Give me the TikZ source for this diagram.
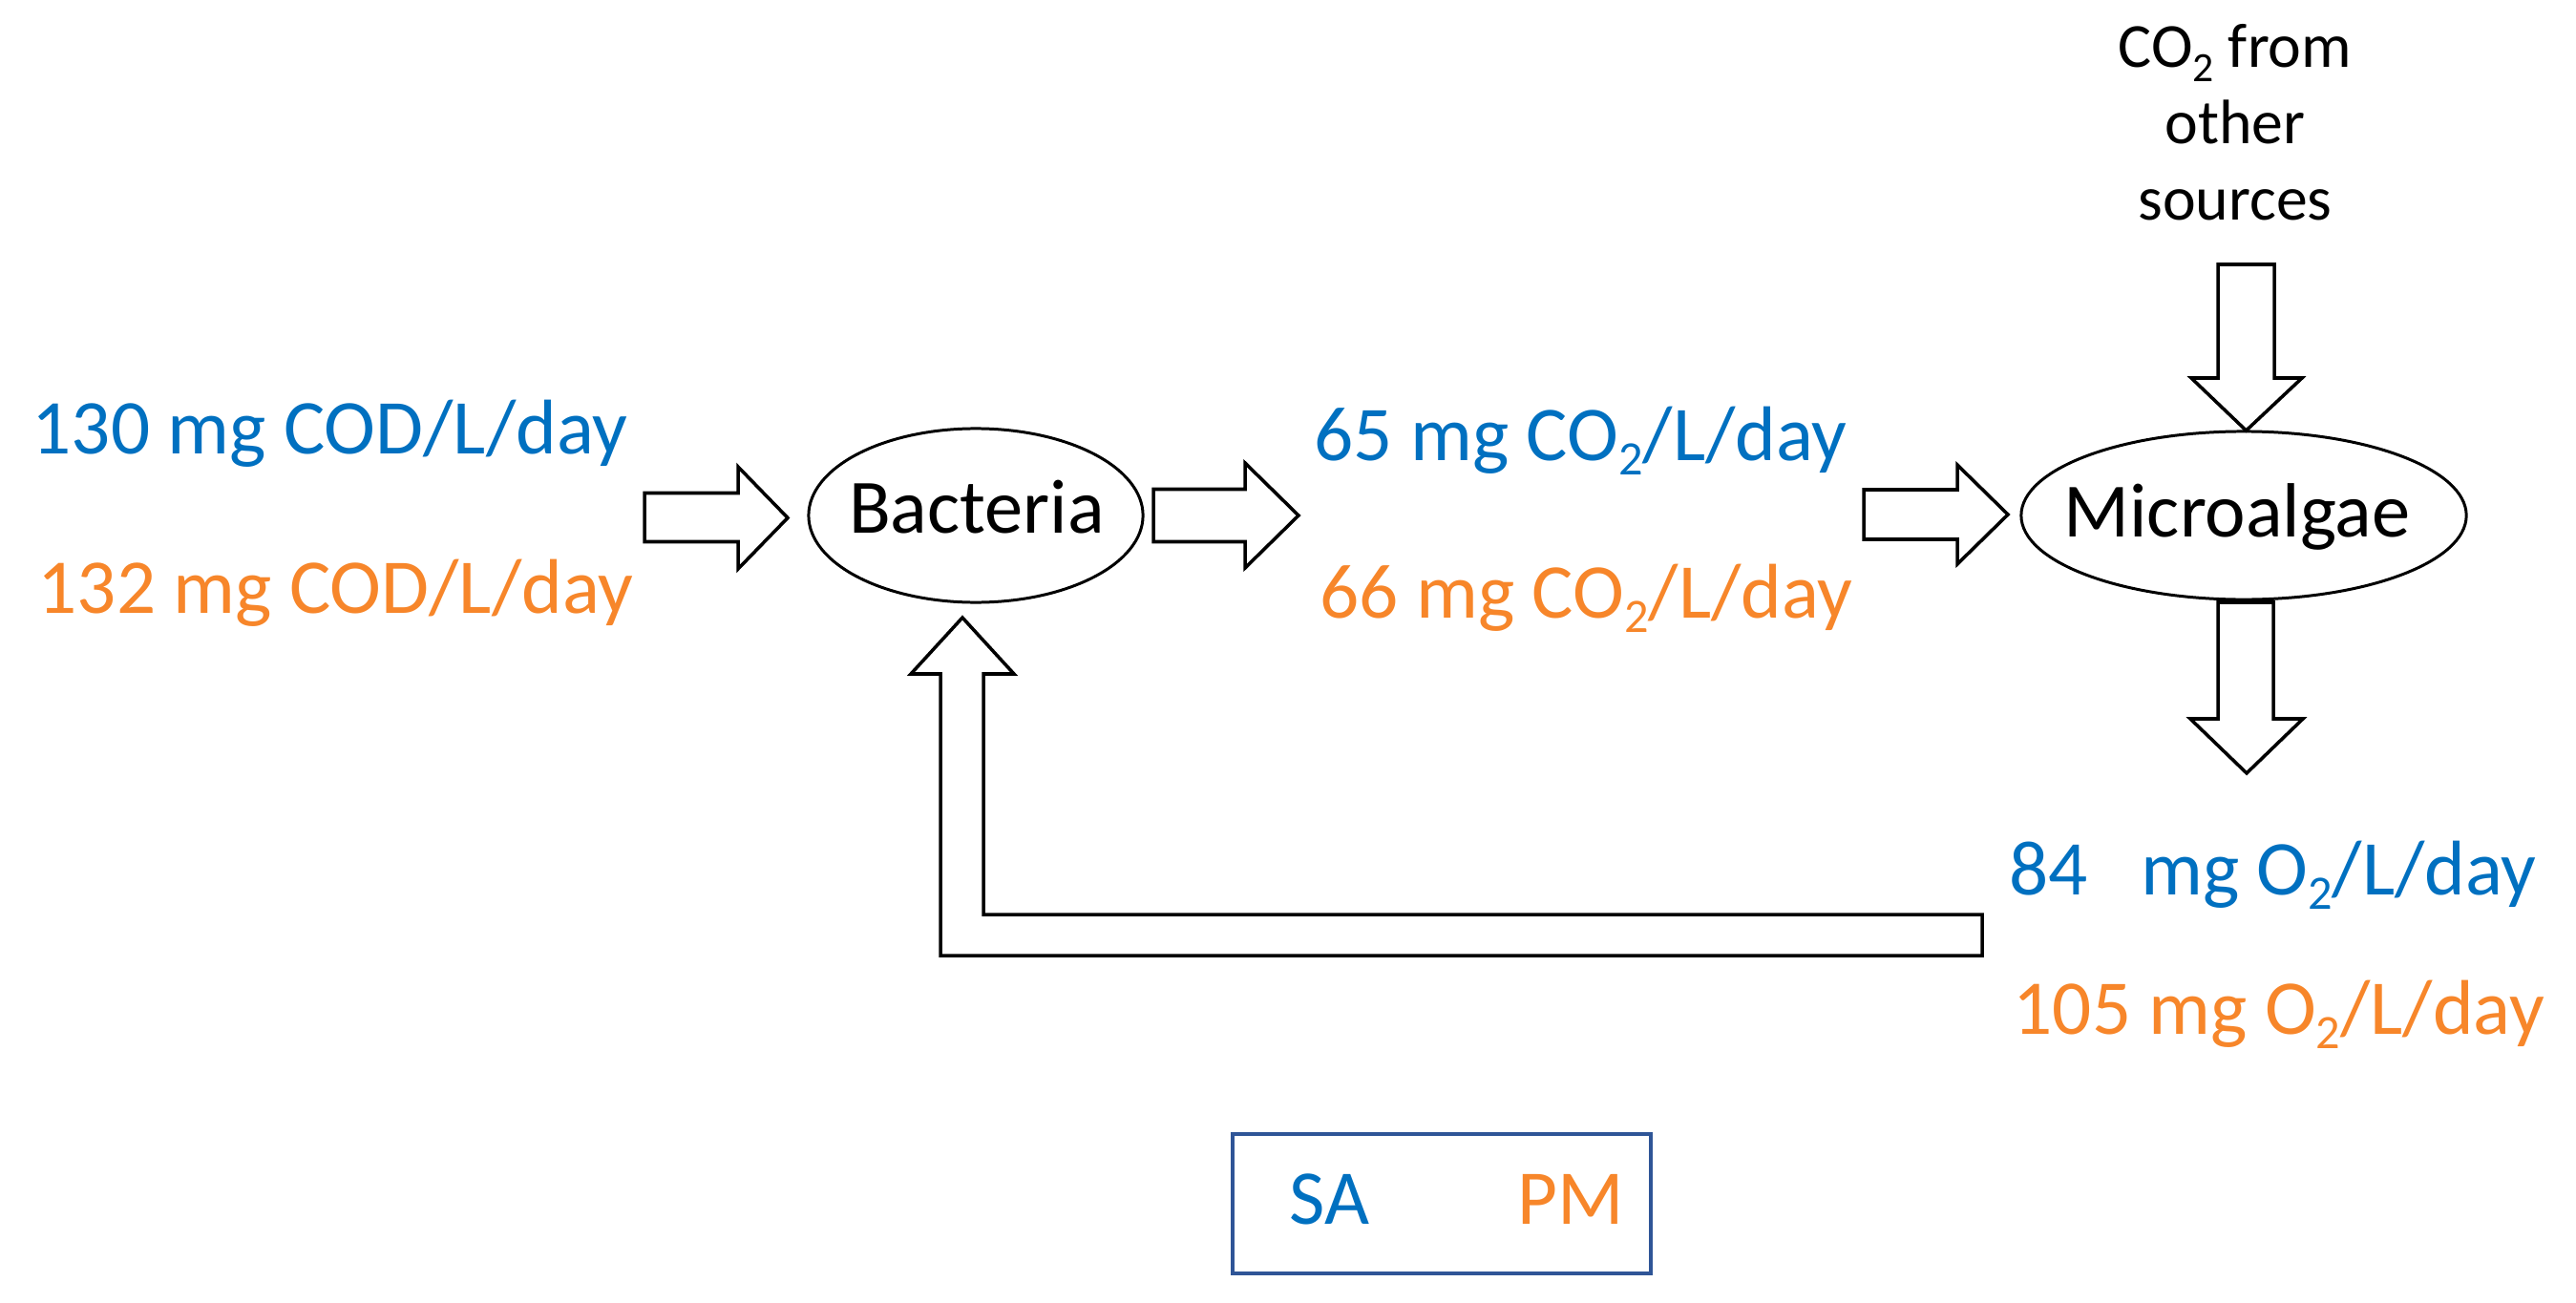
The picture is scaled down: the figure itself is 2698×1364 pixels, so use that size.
\documentclass[tikz,border=0pt]{standalone}
\usepackage{fontspec}
\setmainfont{Carlito}
\usetikzlibrary{shapes.geometric}
\definecolor{sablue}{HTML}{0070C0}
\definecolor{pmorange}{HTML}{F7862A}
\definecolor{legblue}{HTML}{2F5597}
\newcommand\subtwo[2]{\raisebox{#2}{\fontsize{#1}{#1}\selectfont 2}}
\newcommand\bigsub{\subtwo{14.3pt}{-4.3pt}}
\tikzset{
  val/.style={anchor=base west, inner sep=0pt, font=\fontsize{23.1pt}{28pt}\selectfont},
  sa/.style={val, text=sablue},
  pm/.style={val, text=pmorange},
  organism/.style={ellipse, draw, line width=0.85pt, inner sep=0pt},
  orgtext/.style={anchor=base, inner sep=0pt, font=\fontsize{22.9pt}{27pt}\selectfont},
  toptext/.style={anchor=base, inner sep=0pt, font=\fontsize{18.7pt}{22pt}\selectfont},
  blockarrow/.style={draw, line width=1pt, fill=white, line join=miter},
}
\begin{document}
\begin{tikzpicture}[x=0.01cm, y=-0.01cm]
\useasboundingbox (0,0) rectangle (2698,1364);
\fill[white] (0,0) rectangle (2698,1364);

% organisms
\node[organism, minimum width=3.5cm, minimum height=1.82cm] (bact) at (1022,540) {};
\node[orgtext] (bacttext) at (1023,558) {Bacteria};
\node[organism, minimum width=4.66cm, minimum height=1.76cm] (micro) at (2350,540) {};
\node[orgtext] (microtext) at (2343,562) {Microalgae};

% values
\node[sa] (codsa) at (33,475) {130 mg COD/L/day};
\node[pm] (codpm) at (39,642) {132 mg COD/L/day};
\node[sa] (co2sa) at (1376,482) {65 mg CO\bigsub/L/day};
\node[pm] (co2pm) at (1382,647) {66 mg CO\bigsub/L/day};
\node[sa] (o2sa) at (2104,937) {84~~~mg O\bigsub/L/day};
\node[pm] (o2pm) at (2108,1083) {105 mg O\bigsub/L/day};

% CO2 from other sources
\node[toptext] (top1) at (2341,71) {CO\subtwo{12.4pt}{-4pt} from};
\node[toptext] (top2) at (2341,151) {other};
\node[toptext] (top3) at (2341,231) {sources};

% block arrows (horizontal)
\draw[blockarrow] (675,516.5) -- (773,516.5) -- (773,489) -- (825,542.5) -- (773,596) -- (773,567.5) -- (675,567.5) -- cycle;
\draw[blockarrow] (1208,512.5) -- (1304,512.5) -- (1304,485) -- (1360,540) -- (1304,595) -- (1304,567.5) -- (1208,567.5) -- cycle;
\draw[blockarrow] (1952,513) -- (2050,513) -- (2050,487) -- (2103,539) -- (2050,591) -- (2050,565) -- (1952,565) -- cycle;

% block arrows (vertical)
\draw[blockarrow] (2323,277) -- (2382,277) -- (2382,396) -- (2411,396) -- (2352.5,451) -- (2295,396) -- (2323,396) -- cycle;
\draw[blockarrow] (2323,631) -- (2381,631) -- (2381,753) -- (2412,753) -- (2353,810) -- (2294,753) -- (2323,753) -- cycle;

% feedback arrow
\draw[blockarrow] (1008,647) -- (1062,706) -- (1030,706) -- (1030,958) -- (2076,958) -- (2076,1001) -- (985,1001) -- (985,706) -- (954,706) -- cycle;

% legend
\draw[legblue, line width=0.9pt] (1291,1188) rectangle (1729,1334);
\node[sa] (legsa) at (1350,1282) {SA};
\node[pm] (legpm) at (1589,1282) {PM};
\end{tikzpicture}
\end{document}
